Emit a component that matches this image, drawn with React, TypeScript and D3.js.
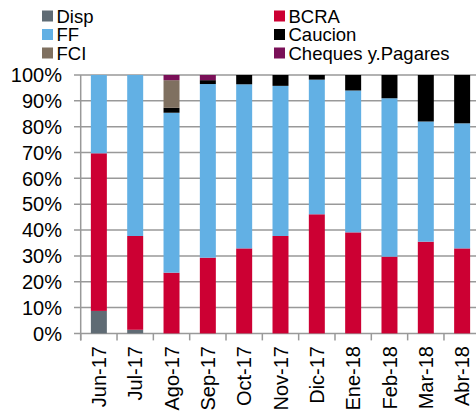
import * as d3 from "d3";
import React, { useEffect, useRef } from "react";

const months = ["Jun-17", "Jul-17", "Ago-17", "Sep-17", "Oct-17", "Nov-17", "Dic-17", "Ene-18", "Feb-18", "Mar-18", "Abr-18"];
const disp = [8.7, 1.4, 0, 0, 0, 0, 0, 0, 0, 0, 0];
const bcra = [61.0, 36.3, 23.5, 29.3, 32.9, 37.7, 46.1, 39.1, 29.7, 35.5, 32.9];
const ff = [30.3, 62.3, 61.9, 67.2, 63.5, 58.1, 52.1, 54.9, 61.3, 46.5, 48.4];
const caucion = [0, 0, 1.9, 1.5, 3.6, 4.2, 1.8, 6.0, 9.0, 18.0, 18.7];
const fci = [0, 0, 10.7, 0, 0, 0, 0, 0, 0, 0, 0];
const cheques = [0, 0, 2.0, 2.0, 0, 0, 0, 0, 0, 0, 0];
const yTicks = [0, 10, 20, 30, 40, 50, 60, 70, 80, 90, 100];

const seriesNames = ["Disp", "BCRA", "FF", "Caucion", "FCI", "Cheques y.Pagares"];
const seriesColors = ["#5f6b74", "#cc0033", "#62b0e4", "#000000", "#7f7060", "#7a1058"];
const seriesValues = [disp, bcra, ff, caucion, fci, cheques];

const W = 476;
const H = 418;

const App: React.FC = () => {
  const ref = useRef<SVGSVGElement | null>(null);

  useEffect(() => {
    if (!ref.current) return;
    const svg = d3.select(ref.current);
    svg.selectAll("*").remove();

    const rows = months.map((m, i) => {
      const r: any = { month: m };
      seriesNames.forEach((s, k) => (r[s] = seriesValues[k][i]));
      return r;
    });

    const x = d3.scaleBand<string>().domain(months).range([80.7, 480.3]).paddingInner(0.56).paddingOuter(0.28);
    const y = d3.scaleLinear().domain([0, 100]).range([333.4, 75]);
    const font = "Arial, 'Liberation Sans', sans-serif";
    const grid = "#999999";

    // gridlines
    svg.append("g")
      .selectAll("line")
      .data(yTicks)
      .enter()
      .append("line")
      .attr("x1", 74)
      .attr("x2", W)
      .attr("y1", (d) => y(d))
      .attr("y2", (d) => y(d))
      .attr("stroke", grid)
      .attr("stroke-width", 1.5);

    // y axis line
    svg.append("line")
      .attr("x1", 80.7).attr("x2", 80.7)
      .attr("y1", y(100)).attr("y2", y(0) + 7)
      .attr("stroke", grid).attr("stroke-width", 1.5);

    // x ticks at band edges
    const edges = months.map((m) => (x(m) as number) - (x.step() - x.bandwidth()) / 2);
    svg.append("g")
      .selectAll("line")
      .data(edges)
      .enter()
      .append("line")
      .attr("x1", (d) => d).attr("x2", (d) => d)
      .attr("y1", y(0)).attr("y2", y(0) + 7)
      .attr("stroke", grid).attr("stroke-width", 1.5);

    // stacked bars
    const stack = d3.stack<any>().keys(seriesNames);
    const layers = stack(rows);
    svg.append("g")
      .selectAll("g")
      .data(layers)
      .enter()
      .append("g")
      .attr("fill", (_d, i) => seriesColors[i])
      .selectAll("rect")
      .data((d) => d.filter((p) => p[1] - p[0] > 0))
      .enter()
      .append("rect")
      .attr("x", (d) => x(d.data.month) as number)
      .attr("width", x.bandwidth())
      .attr("y", (d) => y(d[1]))
      .attr("height", (d) => y(d[0]) - y(d[1]));

    // y labels
    svg.append("g")
      .selectAll("text")
      .data(yTicks)
      .enter()
      .append("text")
      .attr("x", 62)
      .attr("y", (d) => y(d))
      .attr("dy", "0.36em")
      .attr("text-anchor", "end")
      .style("font-family", font)
      .style("font-size", "20px")
      .attr("fill", "#000")
      .text((d) => `${d}%`);

    // x labels
    svg.append("g")
      .selectAll("text")
      .data(months)
      .enter()
      .append("text")
      .attr("transform", (d) => `translate(${(x(d) as number) + x.bandwidth() / 2},346) rotate(-90)`)
      .attr("dy", "0.36em")
      .attr("text-anchor", "end")
      .style("font-family", font)
      .style("font-size", "20px")
      .attr("fill", "#000")
      .text((d) => d);

    // legend
    const leg = svg.append("g");
    seriesNames.forEach((s, i) => {
      const col = i % 2;
      const row = Math.floor(i / 2);
      const lx = col === 0 ? 42 : 274;
      const ly = 16 + row * 18.5;
      leg.append("rect")
        .attr("x", lx).attr("y", ly - 5.5)
        .attr("width", 11).attr("height", 11)
        .attr("fill", seriesColors[i]);
      leg.append("text")
        .attr("x", lx + 14.5).attr("y", ly)
        .attr("dy", "0.36em")
        .style("font-family", font)
        .style("font-size", "18.5px")
        .attr("fill", "#000")
        .text(s);
    });
  }, []);

  return (
    <svg
      ref={ref}
      width={W}
      height={H}
      style={{ position: "absolute", left: 0, top: 0, background: "#fff" }}
    ></svg>
  );
};

export default App;
